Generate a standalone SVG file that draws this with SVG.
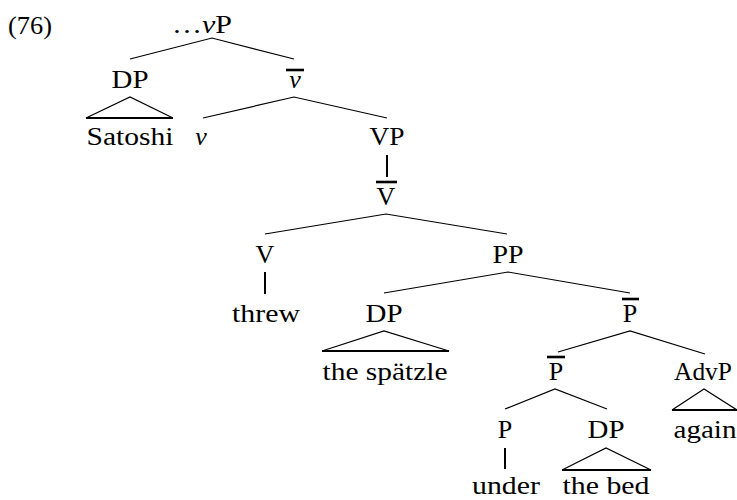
<svg xmlns="http://www.w3.org/2000/svg" width="737" height="500" viewBox="0 0 737 500">
<style>
.t{font-family:"Liberation Serif","Times New Roman",serif;font-size:26px;fill:#000;text-anchor:middle}
.it{font-style:italic}
.br{stroke:#000;stroke-width:1.2;fill:none}
.th{stroke:#000;stroke-width:2;fill:none}
.bar{stroke:#000;stroke-width:2.6}
</style>
<rect width="737" height="500" fill="#fff"/>
<g class="t" font-family="Liberation Serif, Times New Roman, serif" font-size="26" text-anchor="middle" fill="#000">
<text x="30" y="34" textLength="44" lengthAdjust="spacingAndGlyphs">(76)</text>
<g id="vP"><text x="202" y="33" textLength="60" lengthAdjust="spacingAndGlyphs">…<tspan class="it" font-style="italic">ν</tspan>P</text></g>
<g id="DP1"><text x="130" y="88" textLength="37" lengthAdjust="spacingAndGlyphs">DP</text>
<path class="br" d="M86,118 L130,97 L173,118"/><line class="th" x1="86" y1="118" x2="173" y2="118"/></g>
<g id="Satoshi"><text x="130" y="145" textLength="87" lengthAdjust="spacingAndGlyphs">Satoshi</text></g>
<g id="vbar"><text class="it" font-style="italic" x="295" y="88">ν</text><line class="bar" x1="286" y1="70" x2="304" y2="70"/></g>
<g id="v"><text class="it" font-style="italic" x="201" y="145">ν</text></g>
<g id="VP"><text x="387" y="145" textLength="35" lengthAdjust="spacingAndGlyphs">VP</text><line class="th" x1="387" y1="155" x2="387" y2="177"/></g>
<g id="Vbar"><text x="386" y="205">V</text><line class="bar" x1="376" y1="182" x2="397" y2="182"/></g>
<g id="V"><text x="265" y="263">V</text><line class="th" x1="265" y1="272" x2="265" y2="294"/></g>
<g id="threw"><text x="266" y="322" textLength="68" lengthAdjust="spacingAndGlyphs">threw</text></g>
<g id="PP"><text x="508" y="263" textLength="31" lengthAdjust="spacingAndGlyphs">PP</text></g>
<g id="DP2"><text x="384" y="322" textLength="37" lengthAdjust="spacingAndGlyphs">DP</text>
<path class="br" d="M322,351 L384,331 L449,351"/><line class="th" x1="322" y1="351" x2="449" y2="351"/></g>
<g id="spaetzle"><text x="385" y="380" textLength="125" lengthAdjust="spacingAndGlyphs">the spätzle</text></g>
<g id="Pbar1"><text x="630" y="322">P</text><line class="bar" x1="622" y1="299" x2="639" y2="299"/></g>
<g id="Pbar2"><text x="556" y="380">P</text><line class="bar" x1="547" y1="357" x2="565" y2="357"/></g>
<g id="AdvP"><text x="703" y="380" textLength="58" lengthAdjust="spacingAndGlyphs">AdvP</text>
<path class="br" d="M672,410 L704,389 L737,410"/><line class="th" x1="672" y1="410" x2="737" y2="410"/></g>
<g id="again"><text x="705" y="438" textLength="63" lengthAdjust="spacingAndGlyphs">again</text></g>
<g id="P"><text x="505" y="438">P</text><line class="th" x1="505" y1="448" x2="505" y2="469"/></g>
<g id="DP3"><text x="606" y="438" textLength="37" lengthAdjust="spacingAndGlyphs">DP</text>
<path class="br" d="M562,470 L606,448 L651,470"/><line class="th" x1="562" y1="470" x2="651" y2="470"/></g>
<g id="under"><text x="506" y="494" textLength="68" lengthAdjust="spacingAndGlyphs">under</text></g>
<g id="thebed"><text x="606" y="494" textLength="87" lengthAdjust="spacingAndGlyphs">the bed</text></g>
</g>
<g id="connectors" class="br">
<path d="M130,59 L212,38 L294,59"/>
<path d="M203,118 L294,97 L387,118"/>
<path d="M265,234 L386,214 L507,234"/>
<path d="M384,293 L508,272 L630,293"/>
<path d="M558,352 L630,331 L705,354"/>
<path d="M505,409 L555,389 L607,409"/>
</g>
</svg>
